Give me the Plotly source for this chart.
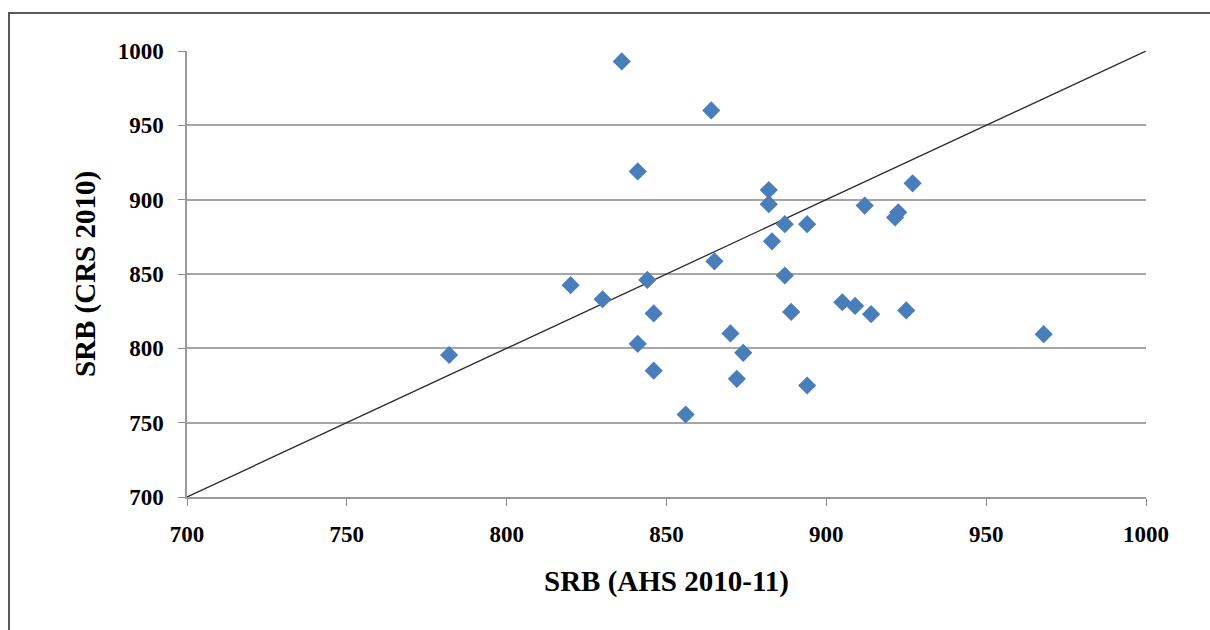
import plotly.graph_objects as go

# SRB values
srb_ahs = [836, 864, 841, 882, 882, 927, 912, 922.5, 921.5, 887, 894, 883, 865, 887,
           820, 844, 830, 846, 841, 846, 856, 870, 874, 872, 889, 894, 905, 909,
           914, 925, 782, 968]
srb_crs = [993, 960, 919, 906.5, 897, 911, 896, 891.5, 888, 883.5, 883.5, 872, 858.5, 849,
           842.5, 846, 833, 823.5, 803, 785, 755.5, 810, 797, 779.5, 824.5, 775, 831, 828.5,
           823, 825.5, 795.5, 809.5]
line_x = [700, 1000]
line_y = [700, 1000]
tick_vals = [700, 750, 800, 850, 900, 950, 1000]

font_family = "Liberation Serif, Times New Roman, serif"

fig = go.Figure()
fig.add_trace(go.Scatter(x=line_x, y=line_y, mode="lines",
                         line=dict(color="#2b2b2b", width=1.3), showlegend=False,
                         hoverinfo="skip"))
fig.add_trace(go.Scatter(x=srb_ahs, y=srb_crs, mode="markers",
                         marker=dict(symbol="diamond", size=14, color="#4A7EBB",
                                     line=dict(width=0)),
                         showlegend=False))

axis_common = dict(
    range=[700, 1000], tickvals=tick_vals, ticks="outside", ticklen=7,
    tickcolor="#8c8c8c", tickwidth=1.3,
    tickfont=dict(family=font_family, size=23, color="#000000", weight="bold"),
    zeroline=False,
)

fig.update_xaxes(**axis_common, showgrid=False, showline=True,
                 linecolor="#9a9a9a", linewidth=1.5, ticklabelstandoff=9,
                 title=dict(text="SRB (AHS 2010-11)",
                            font=dict(family=font_family, size=29, color="#000000",
                                      weight="bold"),
                            standoff=24))
fig.update_yaxes(**axis_common, showgrid=True, gridcolor="#a6a6a6", gridwidth=1.5,
                 showline=True, linecolor="#9a9a9a", linewidth=1.5, ticklabelstandoff=10,
                 title=dict(text="SRB (CRS 2010)",
                            font=dict(family=font_family, size=29, color="#000000",
                                      weight="bold"),
                            standoff=14))

# outer frame of the chart area (extends past the right/bottom of the view)
fig.add_shape(type="rect", xref="paper", yref="paper",
              x0=-0.1856, x1=1.08, y0=-0.35, y1=1.0852,
              line=dict(color="#5a5a5a", width=2), layer="above")

fig.update_layout(
    width=1210, height=630,
    margin=dict(l=187, r=64, t=51, b=133),
    paper_bgcolor="#ffffff", plot_bgcolor="#ffffff",
    font=dict(family=font_family),
)

fig.write_html("out.html")
